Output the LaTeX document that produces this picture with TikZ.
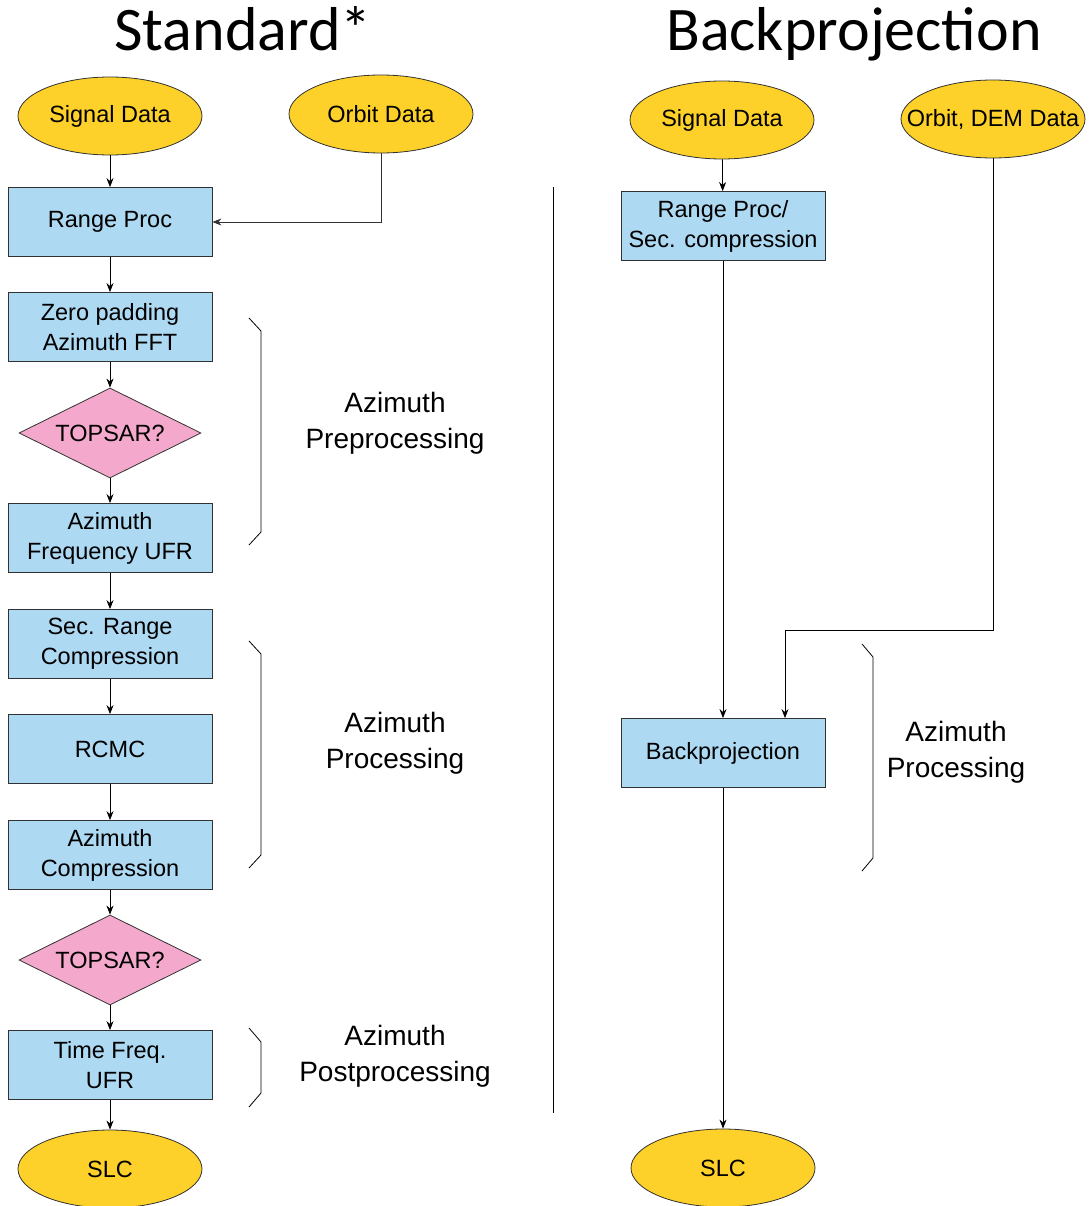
\documentclass[tikz,border=0pt]{standalone}
\usepackage{fontspec}
\setmainfont{Liberation Sans}
\newfontfamily\titlefont{Carlito}
\usetikzlibrary{shapes.geometric,arrows.meta}
\definecolor{dataYellow}{RGB}{253,209,41}
\definecolor{procBlue}{RGB}{174,217,242}
\definecolor{testPink}{RGB}{244,169,204}
\definecolor{edgeGray}{RGB}{50,50,50}
% zero-width text so that wide labels do not enlarge the ellipses
\newcommand\zwtext[1]{\makebox[0pt]{#1}}

\begin{document}
\begin{tikzpicture}[x=1pt,y=-1pt,
  every node/.style={font=\fontsize{23.5}{30}\selectfont},
  datanode/.style={ellipse, draw=edgeGray, fill=dataYellow, line width=0.8pt,
    minimum width=184pt, minimum height=78pt, inner sep=0pt},
  procbox/.style={rectangle, draw=edgeGray, fill=procBlue, line width=0.8pt,
    minimum width=204pt, minimum height=69pt, inner sep=0pt, align=center},
  decision/.style={diamond, draw=edgeGray, fill=testPink, line width=0.8pt,
    minimum width=182pt, minimum height=90pt, inner sep=0pt, shape aspect=2},
  flow/.style={-{Stealth[length=9pt,width=7pt]}, line width=0.8pt, draw=black},
  phase/.style={align=center, font=\fontsize{28}{36}\selectfont},
  brace/.style={line width=0.8pt, draw=black},
  heading/.style={font=\titlefont\fontsize{62}{70}\selectfont, anchor=base}
]
\useasboundingbox (0,0) rectangle (1091,1206);

% titles
\node[heading] (tstd) at (243,51) {Standard*};
\node[heading] (tbp) at (854,51) {Backprojection};

% ---------------- standard chain ----------------
\node[datanode] (sig1) at (110,116) {\zwtext{Signal Data}};
\node[datanode] (orb1) at (381,114) {\zwtext{Orbit Data}};
\node[procbox] (rng1) at (110,222) {Range Proc};
\node[procbox] (zpad) at (110,327) {Zero padding\\Azimuth FFT};
\node[decision] (top1) at (110,433) {TOPSAR?};
\node[procbox] (afufr) at (110,538) {Azimuth\\Frequency UFR};
\node[procbox] (srcmp) at (110,644) {Sec. Range\\Compression};
\node[procbox] (rcmc) at (110,749) {RCMC};
\node[procbox] (azcmp) at (110,855) {Azimuth\\Compression};
\node[decision] (top2) at (110,960) {TOPSAR?};
\node[procbox] (tfufr) at (110,1065) {Time Freq.\\UFR};
\node[datanode] (slc1) at (110,1169) {\zwtext{SLC}};

\draw[flow] (sig1) -- (rng1);
\draw[flow, draw=edgeGray] (orb1.south) |- (rng1.east);
\draw[flow] (rng1) -- (zpad);
\draw[flow] (zpad) -- (top1.north);
\draw[flow] (top1.south) -- (afufr);
\draw[flow] (afufr) -- (srcmp);
\draw[flow] (srcmp) -- (rcmc);
\draw[flow] (rcmc) -- (azcmp);
\draw[flow] (azcmp) -- (top2.north);
\draw[flow] (top2.south) -- (tfufr);
\draw[flow] (tfufr) -- (slc1);

% stage brackets and labels
\draw[brace] (249,318) -- (261,331) -- (261,532) -- (249,545);
\draw[brace] (249,641) -- (261,654) -- (261,855) -- (249,868);
\draw[brace] (249,1028) -- (261,1042) -- (261,1093) -- (249,1107);
\node[phase] (lpre) at (395,423) {Azimuth\\Preprocessing};
\node[phase] (lproc) at (395,743) {Azimuth\\Processing};
\node[phase] (lpost) at (395,1056) {Azimuth\\Postprocessing};

% separator
\draw[line width=0.8pt] (553,187) -- (553,1113);

% ---------------- backprojection chain ----------------
\node[datanode] (sig2) at (722,120) {\zwtext{Signal Data}};
\node[datanode] (orb2) at (993,119) {\zwtext{Orbit, DEM Data}};
\node[procbox] (rng2) at (723,226) {Range Proc/\\Sec. compression};
\node[procbox] (bproj) at (723,753) {Backprojection};
\node[datanode] (slc2) at (723,1168) {\zwtext{SLC}};
\coordinate (jog) at (785,630);

\draw[flow] (sig2) -- (rng2);
\draw[flow] (rng2) -- (bproj);
\draw[flow] (orb2.south) |- (jog) -- (jog |- bproj.north);
\draw[flow] (bproj) -- (slc2);

\draw[brace] (862,644) -- (873,657) -- (873,858) -- (862,871);
\node[phase] (rproc) at (956,752) {Azimuth\\Processing};

\end{tikzpicture}
\end{document}
